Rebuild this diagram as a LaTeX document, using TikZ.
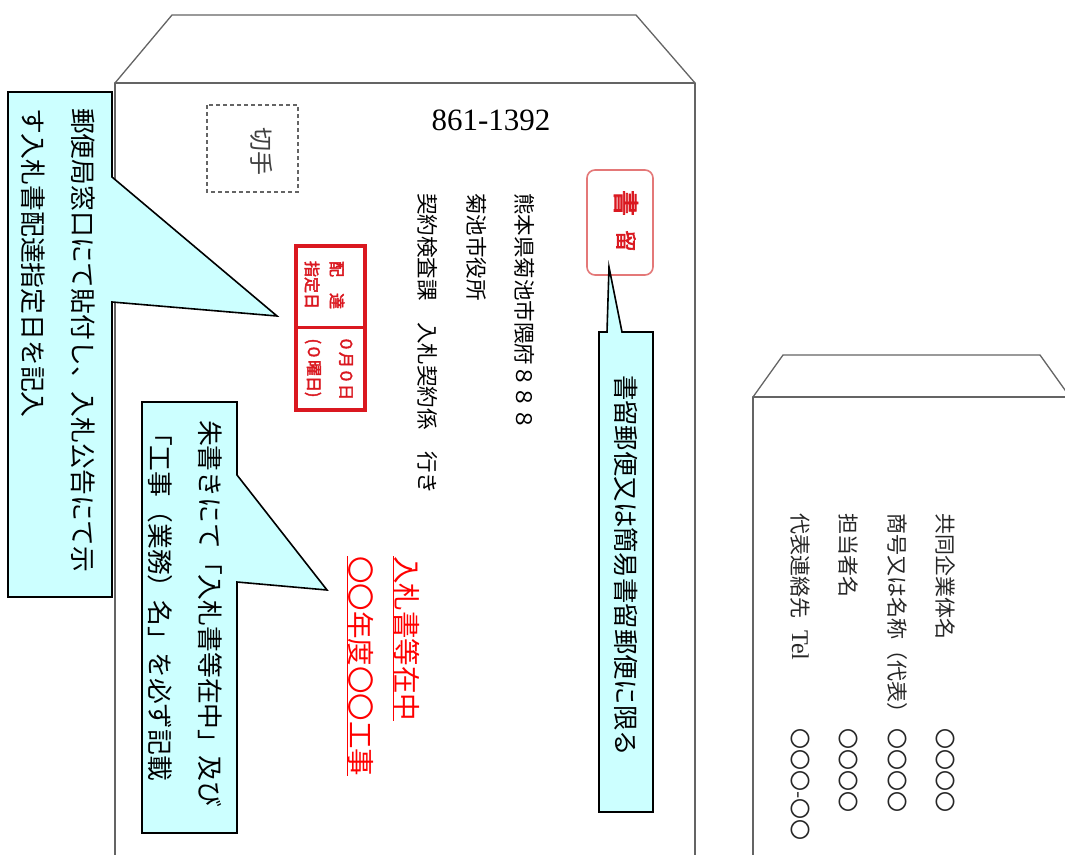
\documentclass[tikz,border=0pt]{standalone}
\usepackage{fontspec}
\newfontfamily\jp{Noto Sans CJK JP}
\newfontfamily\jpb[FakeBold=2.8]{Noto Sans CJK JP}
\newfontfamily\numfont{Liberation Serif}
\definecolor{callfill}{RGB}{204,255,255}
\definecolor{stampred}{RGB}{218,24,32}
\definecolor{softred}{RGB}{228,120,120}
\definecolor{envgray}{RGB}{100,100,100}
\tikzset{
  env/.style={draw=envgray, line width=1.3pt, line join=round},
  callout/.style={draw=black, line width=1.6pt, fill=callfill, line join=miter},
  vtext/.style={rotate=-90, anchor=west, inner sep=0pt, outer sep=0pt},
  ctext/.style={rotate=-90, anchor=center, inner sep=0pt, outer sep=0pt},
  callfont/.style={font=\jp\fontsize{25.8}{28}\selectfont},
  addrfont/.style={font=\jp\fontsize{21.5}{24}\selectfont},
  sendfont/.style={font=\jp\fontsize{21}{23}\selectfont, text=black!85},
  redfont/.style={font=\jp\fontsize{27.5}{30}\selectfont, text=red},
  smallstamp/.style={font=\jpb\fontsize{16}{17}\selectfont, text=stampred}
}
\begin{document}
\begin{tikzpicture}[x=1pt,y=-1pt]
\useasboundingbox (0,0) rectangle (1065,854);
\fill[white] (0,0) rectangle (1065,854);
\clip (0,0) rectangle (1065,854);

% main envelope
\draw[env] (115,870) -- (115,83) -- (695,83) -- (695,870);
\draw[env] (115,83) -- (172,15) -- (636,15) -- (695,83);

% second envelope
\draw[env] (753,870) -- (753,397) -- (1080,397);
\draw[env] (753,397) -- (783,355) -- (1040,355) -- (1070,397);

% stamp area
\draw[envgray, dashed, line width=1.4pt, dash pattern=on 4pt off 3pt] (207,105) rectangle (298,192);
\node[ctext, font=\jp\fontsize{24}{24}\selectfont, text=black!75] (kitte) at (262,151) {切手};

% postal code
\node[font=\numfont\fontsize{31}{34}\selectfont, inner sep=0pt] (zip) at (491,120) {861-1392};

% address
\node[vtext, addrfont] (addr1) at (525,193) {熊本県菊池市隈府８８８};
\node[vtext, addrfont] (addr2) at (477,193) {菊池市役所};
\node[vtext, addrfont] (addr3) at (428,193) {契約検査課　入札契約係　行き};

% registered mail stamp
\draw[softred, line width=1.6pt, rounded corners=8pt, fill=white] (587,170) rectangle (653,275);
\node[ctext, font=\jpb\fontsize{26}{26}\selectfont, text=stampred] (sho) at (626,203) {書};
\node[ctext, font=\jpb\fontsize{21}{21}\selectfont, text=stampred] (ryu) at (626,241) {留};

% delivery date stamp
\draw[stampred, line width=4pt] (296,246) rectangle (365,410);
\draw[stampred, line width=3pt] (296,327) -- (365,327);
\node[ctext, smallstamp] (haitatsu) at (337,285) {配　達};
\node[ctext, smallstamp] (shitei) at (312,285) {指定日};
\node[ctext, smallstamp] (tsukihi) at (346,368) {０月０日};
\node[ctext, smallstamp] (youbi) at (313,368) {(０曜日)};

% red text
\node[vtext, redfont] (red1) at (406,556) {\underline{入札書等在中}};
\node[vtext, redfont] (red2) at (360,556) {\underline{〇〇年度〇〇工事}};

% callout 1
\path[callout] (8,92) -- (112,92) -- (112,177) -- (277,316) -- (112,302) -- (112,597) -- (8,597) -- cycle;
\node[vtext, callfont] (c1a) at (83,108) {郵便局窓口にて貼付し、入札公告にて示};
\node[vtext, callfont] (c1b) at (33,108) {す入札書配達指定日を記入};

% callout 2
\path[callout] (142,402) -- (237,402) -- (237,475) -- (327,590) -- (237,582) -- (237,833) -- (142,833) -- cycle;
\node[vtext, callfont] (c2a) at (210,420) {朱書きにて「入札書等在中」及び};
\node[vtext, callfont] (c2b) at (160,420) {「工事（業務）名」を必ず記載};

% callout 3
\path[callout] (599,332) -- (607,332) -- (609,267) -- (622,332) -- (653,332) -- (653,812) -- (599,812) -- cycle;
\node[vtext, font=\jp\fontsize{25.4}{28}\selectfont] (c3) at (626,375) {書留郵便又は簡易書留郵便に限る};

% sender
\node[vtext, sendfont] (s1) at (945,513) {共同企業体名};
\node[vtext, sendfont] (s2) at (897,513) {商号又は名称（代表）};
\node[vtext, sendfont] (s3) at (848,513) {担当者名};
\node[vtext, sendfont] (s4) at (800,513) {代表連絡先\hspace{12pt}{\numfont\fontsize{24}{24}\selectfont Tel}};
\node[vtext, sendfont] (v1) at (945,728) {〇〇〇〇};
\node[vtext, sendfont] (v2) at (897,728) {〇〇〇〇};
\node[vtext, sendfont] (v3) at (848,728) {〇〇〇〇};
\node[vtext, sendfont] (v4) at (800,728) {〇〇〇-〇〇};
\end{tikzpicture}
\end{document}
